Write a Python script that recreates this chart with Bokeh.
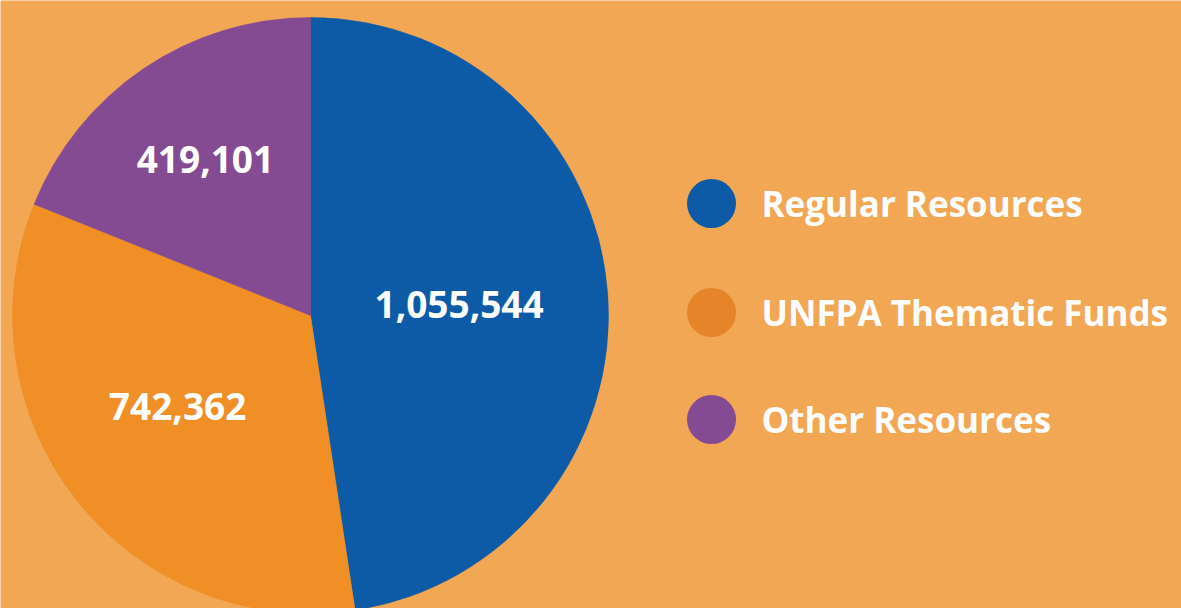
import math
from bokeh.plotting import figure
from bokeh.models import ColumnDataSource
from bokeh.core.properties import value
from bokeh.embed import file_html
from bokeh.resources import INLINE

categories = ["Regular Resources", "UNFPA Thematic Funds", "Other Resources"]
amounts = [1055544, 742362, 419101]
labels = ["1,055,544", "742,362", "419,101"]
slice_colors = ["#0D5BA7", "#EF8F25", "#844B93"]
legend_colors = ["#0D5BA7", "#E6842A", "#844B93"]

W, H = 1181, 608
BG = "#F2A755"
cx, cy, R = 310, 608 - 315, 298
label_r = [0.50, 0.54, 0.63]
label_da = [0.0, -4.0, 0.0]  # degrees

total = sum(amounts)
starts, ends, lx, ly = [], [], [], []
acc = 0.0
for i, a in enumerate(amounts):
    s = math.pi / 2 - 2 * math.pi * acc / total
    acc += a
    e = math.pi / 2 - 2 * math.pi * acc / total
    starts.append(s)
    ends.append(e)
    m = (s + e) / 2 + math.radians(label_da[i])
    lx.append(cx + label_r[i] * R * math.cos(m))
    ly.append(cy + label_r[i] * R * math.sin(m))

p = figure(width=W, height=H, x_range=(0, W), y_range=(0, H),
           output_backend="svg", toolbar_location=None, min_border=0)
p.axis.visible = False
p.grid.visible = False
p.outline_line_color = None
p.background_fill_color = BG
p.border_fill_color = BG

src = ColumnDataSource(dict(x=[cx] * 3, y=[cy] * 3, s=starts, e=ends, c=slice_colors,
                            lx=lx, ly=ly, t=labels))
p.wedge(x="x", y="y", radius=R, start_angle="s", end_angle="e", direction="clock",
        fill_color="c", line_color="c", line_width=0.5, source=src)
p.text(x="lx", y="ly", text="t", text_color="white", text_font=value("Open Sans"),
       text_font_style="bold", text_font_size="37px", text_align="center",
       text_baseline="middle", source=src)

leg_y = [608 - 203, 608 - 312, 608 - 419]
leg = ColumnDataSource(dict(x=[711] * 3, y=leg_y, c=legend_colors,
                            tx=[761] * 3, t=categories))
p.scatter(x="x", y="y", size=49, fill_color="c", line_color=None, source=leg)
p.text(x="tx", y="y", text="t", text_color="white", text_font=value("Open Sans"),
       text_font_style="bold", text_font_size="35px", text_align="left",
       text_baseline="middle", source=leg)

open("out.html", "w").write(file_html(p, INLINE))
